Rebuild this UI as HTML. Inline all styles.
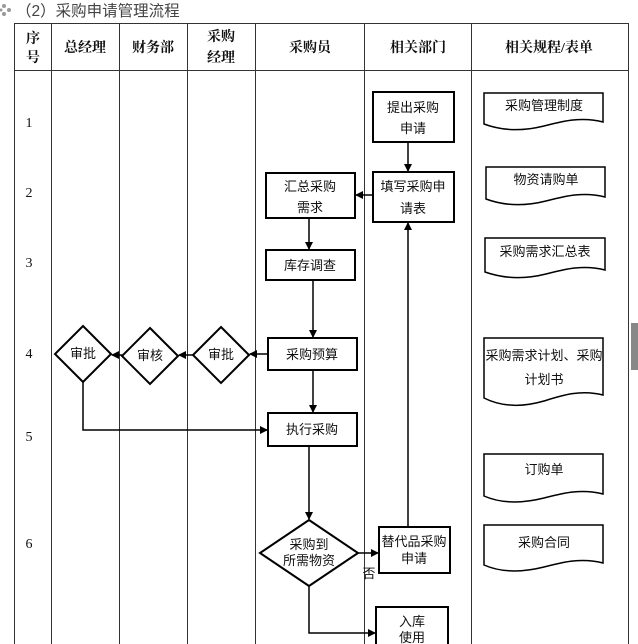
<!DOCTYPE html>
<html><head><meta charset="utf-8"><style>
html,body{margin:0;padding:0;background:#fff;}
svg{display:block;}
text{font-family:"Liberation Serif","Noto Serif CJK SC",serif;fill:#111;}
.b{font-family:"Liberation Sans","Noto Sans CJK SC",sans-serif;font-size:13px;text-anchor:middle;}
.h{font-family:"Liberation Serif","Noto Serif CJK SC",serif;font-size:14px;font-weight:bold;text-anchor:middle;}
.n{font-size:14px;text-anchor:middle;}
</style></head><body>
<svg width="638" height="644" viewBox="0 0 638 644" xmlns="http://www.w3.org/2000/svg">
<defs><marker id="a" markerWidth="8" markerHeight="8" refX="7" refY="4" orient="auto" markerUnits="userSpaceOnUse"><path d="M0,0 L8,4 L0,8 Z" fill="#000"/></marker></defs>
<g fill="#999"><circle cx="4" cy="6" r="2"/><circle cx="9" cy="10" r="2"/><circle cx="4" cy="14" r="2"/><circle cx="1" cy="10" r="1.5"/></g>
<text x="16" y="16" style="font-family:'Liberation Sans','Noto Sans CJK SC',sans-serif;font-size:15.5px;fill:#444">（2）采购申请管理流程</text>
<g stroke="#333" stroke-width="1" fill="none">
<rect x="14.5" y="23.5" width="614" height="640"/>
<line x1="14" y1="70.5" x2="629" y2="70.5"/>
<line x1="51.5" y1="23" x2="51.5" y2="644"/>
<line x1="119.5" y1="23" x2="119.5" y2="644"/>
<line x1="187.5" y1="23" x2="187.5" y2="644"/>
<line x1="255.5" y1="23" x2="255.5" y2="644"/>
<line x1="364.5" y1="23" x2="364.5" y2="644"/>
<line x1="471.5" y1="23" x2="471.5" y2="644"/>
</g>
<rect x="631" y="323" width="7" height="47" fill="#888"/>
<text class="h" x="33" y="43">序</text><text class="h" x="33" y="62">号</text>
<text class="h" x="85" y="52">总经理</text>
<text class="h" x="153" y="52">财务部</text>
<text class="h" x="221" y="41">采购</text><text class="h" x="221" y="62">经理</text>
<text class="h" x="310" y="52">采购员</text>
<text class="h" x="418" y="52">相关部门</text>
<text class="h" x="549" y="52">相关规程/表单</text>
<text class="n" x="29" y="127">1</text><text class="n" x="29" y="197">2</text><text class="n" x="29" y="267">3</text>
<text class="n" x="29" y="358">4</text><text class="n" x="29" y="441">5</text><text class="n" x="29" y="548">6</text>
<g stroke="#000" stroke-width="2" fill="#fff">
<rect x="373" y="92" width="81" height="50"/>
<rect x="266" y="173" width="89" height="45"/>
<rect x="373" y="172" width="81" height="50"/>
<rect x="266" y="250" width="89" height="30"/>
<rect x="268" y="338" width="89" height="32"/>
<rect x="268" y="413" width="89" height="33"/>
<rect x="379" y="527" width="71" height="46"/>
<rect x="376" y="607" width="72" height="45"/>
<polygon points="83,326 111,354 83,382 55,354"/>
<polygon points="150,328 178,356 150,384 122,356"/>
<polygon points="221,327 249,355 221,383 193,355"/>
<polygon points="309,520 358,553 309,586 260,553"/>
</g>
<g stroke="#000" stroke-width="1.5" fill="#fff">
<path d="M484,93 H603 V122 C580,116 560,122 544,126 C520,132 500,130 484,124 Z"/>
<path d="M486,167 H605 V197 C582,191 562,197 546,201 C522,207 502,205 486,199 Z"/>
<path d="M485,238 H605 V270 C582,264 562,270 546,274 C522,280 502,278 485,272 Z"/>
<path d="M484,338 H603 V395 C580,389 560,396 544,401 C520,408 500,406 484,398 Z"/>
<path d="M484,454 H603 V494 C580,488 560,494 544,498 C520,504 500,503 484,496 Z"/>
<path d="M484,525 H603 V563 C580,557 560,563 544,567 C520,573 500,572 484,565 Z"/>
</g>
<g stroke="#000" stroke-width="1.5" fill="none">
<line x1="408" y1="142" x2="408" y2="171" marker-end="url(#a)"/>
<line x1="373" y1="195" x2="356" y2="195" marker-end="url(#a)"/>
<line x1="309" y1="218" x2="309" y2="249" marker-end="url(#a)"/>
<line x1="313" y1="280" x2="313" y2="337" marker-end="url(#a)"/>
<line x1="268" y1="354" x2="250" y2="354" marker-end="url(#a)"/>
<line x1="193" y1="355" x2="179" y2="355" marker-end="url(#a)"/>
<line x1="122" y1="355" x2="112" y2="355" marker-end="url(#a)"/>
<polyline points="83,382 83,430 267,430" marker-end="url(#a)"/>
<line x1="313" y1="370" x2="313" y2="412" marker-end="url(#a)"/>
<line x1="309" y1="446" x2="309" y2="519" marker-end="url(#a)"/>
<line x1="358" y1="553" x2="378" y2="553" marker-end="url(#a)"/>
<line x1="408" y1="527" x2="408" y2="223" marker-end="url(#a)"/>
<polyline points="309,586 309,633 375,633" marker-end="url(#a)"/>
</g>
<text class="b" x="413" y="112">提出采购</text><text class="b" x="413" y="133">申请</text>
<text class="b" x="310" y="191">汇总采购</text><text class="b" x="310" y="212">需求</text>
<text class="b" x="413" y="191">填写采购申</text><text class="b" x="413" y="213">请表</text>
<text class="b" x="310" y="270">库存调查</text>
<text class="b" x="312" y="359">采购预算</text>
<text class="b" x="312" y="434">执行采购</text>
<text class="b" x="83" y="358">审批</text><text class="b" x="150" y="360">审核</text><text class="b" x="221" y="359">审批</text>
<text class="b" x="309" y="549">采购到</text><text class="b" x="309" y="565">所需物资</text>
<text class="b" x="369" y="578">否</text>
<text class="b" x="414" y="546">替代品采购</text><text class="b" x="414" y="563">申请</text>
<text class="b" x="412" y="626">入库</text><text class="b" x="412" y="642">使用</text>
<text class="b" x="544" y="110">采购管理制度</text>
<text class="b" x="546" y="184">物资请购单</text>
<text class="b" x="545" y="256">采购需求汇总表</text>
<text class="b" x="544" y="360">采购需求计划、采购</text><text class="b" x="544" y="384">计划书</text>
<text class="b" x="544" y="474">订购单</text>
<text class="b" x="544" y="547">采购合同</text>
</svg>
</body></html>
